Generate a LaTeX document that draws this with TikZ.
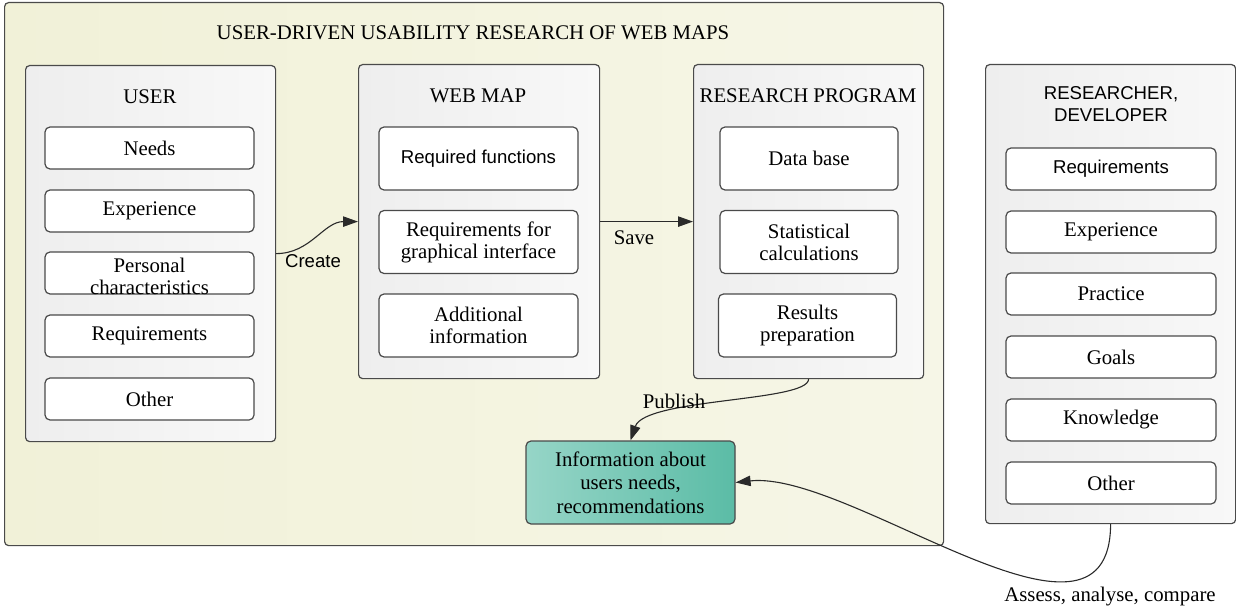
\documentclass[tikz,border=0pt]{standalone}
\usepackage{fontspec}
\setmainfont{Liberation Serif}
\newfontfamily\labelsans{Liberation Sans}
\usetikzlibrary{arrows.meta}

\definecolor{edge}{HTML}{4A4A4A}
\definecolor{wire}{HTML}{2A2A2A}
\definecolor{frameA}{HTML}{F1F1D8}
\definecolor{frameB}{HTML}{F6F6E7}
\definecolor{panelA}{HTML}{EEEEEE}
\definecolor{panelB}{HTML}{F8F8F8}
\definecolor{noteA}{HTML}{96D5C7}
\definecolor{noteB}{HTML}{5BBCA6}

\newcommand{\serifsize}{\fontsize{10.4}{11}\selectfont}
\newcommand{\sanssize}{\labelsans\fontsize{9.3}{11}\selectfont}

\tikzset{
  frame/.style={draw=edge, line width=0.6pt, rounded corners=2pt,
    left color=frameA, right color=frameB, anchor=north west, inner sep=0pt},
  panel/.style={draw=edge, line width=0.6pt, rounded corners=2pt,
    left color=panelA, right color=panelB, anchor=north west, inner sep=0pt},
  item/.style={draw=edge, line width=0.6pt, fill=white, rounded corners=2.5pt,
    inner sep=0pt, align=center, font=\serifsize},
  smallitem/.style={item, minimum height=21pt},
  tallitem/.style={item, minimum height=31.5pt},
  heading/.style={font=\serifsize, inner sep=0pt},
  tag/.style={font=\serifsize, inner sep=0pt},
  link/.style={draw=wire, line width=0.55pt,
    -{Triangle[length=7.5pt,width=5.2pt]}},
}

\begin{document}
\begin{tikzpicture}[x=0.5pt, y=-0.5pt]
  \useasboundingbox (0,0) rectangle (1236,609);

  % study frame
  \node[frame, minimum width=469.5pt, minimum height=271.5pt] (study) at (4,2) {};
  \node[heading] (studytitle) at (473,33) {USER-DRIVEN USABILITY RESEARCH OF WEB MAPS};

  % user panel
  \node[panel, minimum width=125pt, minimum height=188pt] (user) at (25,65) {};
  \node[heading] (usertitle) at (150,97) {USER};
  \node[smallitem, minimum width=104.5pt] (u1) at (149.5,148) {Needs};
  \node[smallitem, minimum width=104.5pt] (u2) at (149.5,211) {Experience};
  \node[smallitem, minimum width=104.5pt] (u3) at (149.5,273) {};
  \node[heading, align=center] (u3text) at ([yshift=-1.75pt]u3.center) {Personal\\characteristics};
  \node[smallitem, minimum width=104.5pt] (u4) at (149.5,336) {Requirements};
  \node[smallitem, minimum width=104.5pt] (u5) at (149.5,399) {Other};

  % web map panel
  \node[panel, minimum width=120.5pt, minimum height=157pt] (web) at (358,64) {};
  \node[heading] (webtitle) at (478,96) {WEB MAP};
  \node[tallitem, minimum width=99.5pt, font=\sanssize] (w1) at (478.5,158.5) {Required functions};
  \node[tallitem, minimum width=99.5pt] (w2) at (478.5,242) {Requirements for\\graphical interface};
  \node[tallitem, minimum width=99.5pt] (w3) at (478.5,325.5) {Additional\\information};

  % research program panel
  \node[panel, minimum width=115pt, minimum height=157pt] (prog) at (693,64) {};
  \node[heading] (progtitle) at (808,96) {RESEARCH PROGRAM};
  \node[tallitem, minimum width=89pt] (p1) at (809,158.5) {Data base};
  \node[tallitem, minimum width=89pt] (p2) at (809,242) {Statistical\\calculations};
  \node[tallitem, minimum width=89pt] (p3) at (807.5,325.5) {Results\\preparation};

  % outcome
  \node[draw=edge, line width=0.6pt, rounded corners=2.5pt, left color=noteA, right color=noteB,
        minimum width=104.5pt, minimum height=41.5pt, inner sep=0pt, align=center,
        font=\fontsize{10.4}{11.75}\selectfont] (info) at (630.5,482.5)
        {Information about\\users needs,\\recommendations};

  % researcher panel
  \node[panel, minimum width=125pt, minimum height=229.5pt] (dev) at (985,64) {};
  \node[heading, font=\sanssize, align=center] (devtitle) at (1111,104) {RESEARCHER,\\DEVELOPER};
  \node[smallitem, minimum width=105pt, font=\sanssize] (d1) at (1111,169) {Requirements};
  \node[smallitem, minimum width=105pt] (d2) at (1111,232) {Experience};
  \node[smallitem, minimum width=105pt] (d3) at (1111,294) {Practice};
  \node[smallitem, minimum width=105pt] (d4) at (1111,357) {Goals};
  \node[smallitem, minimum width=105pt] (d5) at (1111,420) {Knowledge};
  \node[smallitem, minimum width=105pt] (d6) at (1111,483) {Other};

  % connectors
  \draw[link] (user.east) to[out=0, in=180] (web.west);
  \node[tag, font=\sanssize] (createtag) at (313,261) {Create};

  \draw[link] (web.east) -- (prog.west);
  \node[tag] (savetag) at (634,238) {Save};

  \draw[link] (prog.south) .. controls (808,402) and (645,398) .. (info.north);
  \node[tag] (publishtag) at (674,401) {Publish};

  \draw[link] (dev.south) .. controls (1110,680) and (850,470) .. (info.east);
  \node[tag] (assesstag) at (1110,597) {Assess, analyse, compare};
\end{tikzpicture}
\end{document}
